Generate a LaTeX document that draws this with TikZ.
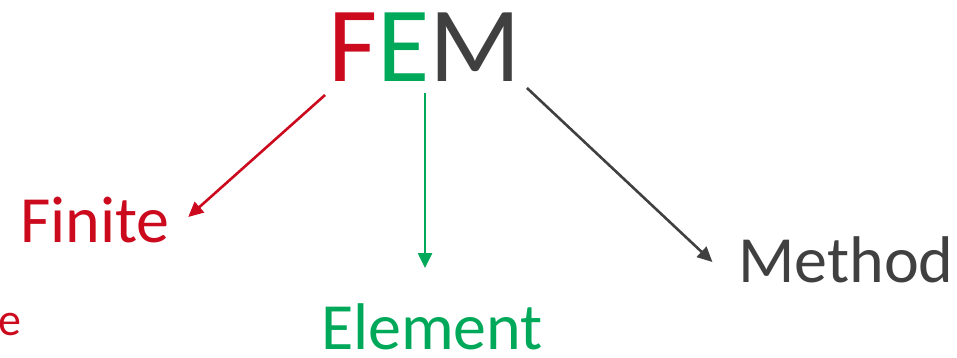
\documentclass[tikz,border=0pt]{standalone}
\usepackage{fontspec}
\setmainfont{Carlito}
\usetikzlibrary{arrows.meta,calc}
\definecolor{femred}{HTML}{CC0A1E}
\definecolor{femgreen}{HTML}{00A85A}
\definecolor{femgray}{HTML}{404040}
\tikzset{
  word/.style={anchor=base,inner sep=0pt,outer sep=0pt},
  conn/.style={line width=2.6pt,-{Triangle[length=15pt,width=14pt]}},
}
\begin{document}
\begin{tikzpicture}[x=1pt,y=-1pt]
\useasboundingbox (0,0) rectangle (957,358);
\node[word,font=\fontsize{107}{107}\selectfont] (fem) at (425,82)
  {\textcolor{femred}{F}\textcolor{femgreen}{E}\textcolor{femgray}{M}};
\node[word,font=\fontsize{66}{66}\selectfont,text=femred] (finite) at (95,242) {Finite};
\node[word,font=\fontsize{66}{66}\selectfont,text=femgreen] (element) at (432,349) {Element};
\node[word,font=\fontsize{66}{66}\selectfont,text=femgray] (method) at (846,282) {Method};
\node[anchor=base east,inner sep=0pt,font=\fontsize{46}{46}\selectfont,text=femred] (cut) at (22,335) {e};
\draw[conn,femred] ($(fem.base west)+(-3.5,13)$) -- ($(finite.base east)+(18.5,-25)$);
\draw[conn,femgreen] ($(fem.base)+(0,11)$) -- ($(element.base)+(-7,-81)$);
\draw[conn,femgray] ($(fem.base east)+(5.5,6)$) -- ($(method.base west)+(-26,-20)$);
\end{tikzpicture}
\end{document}
